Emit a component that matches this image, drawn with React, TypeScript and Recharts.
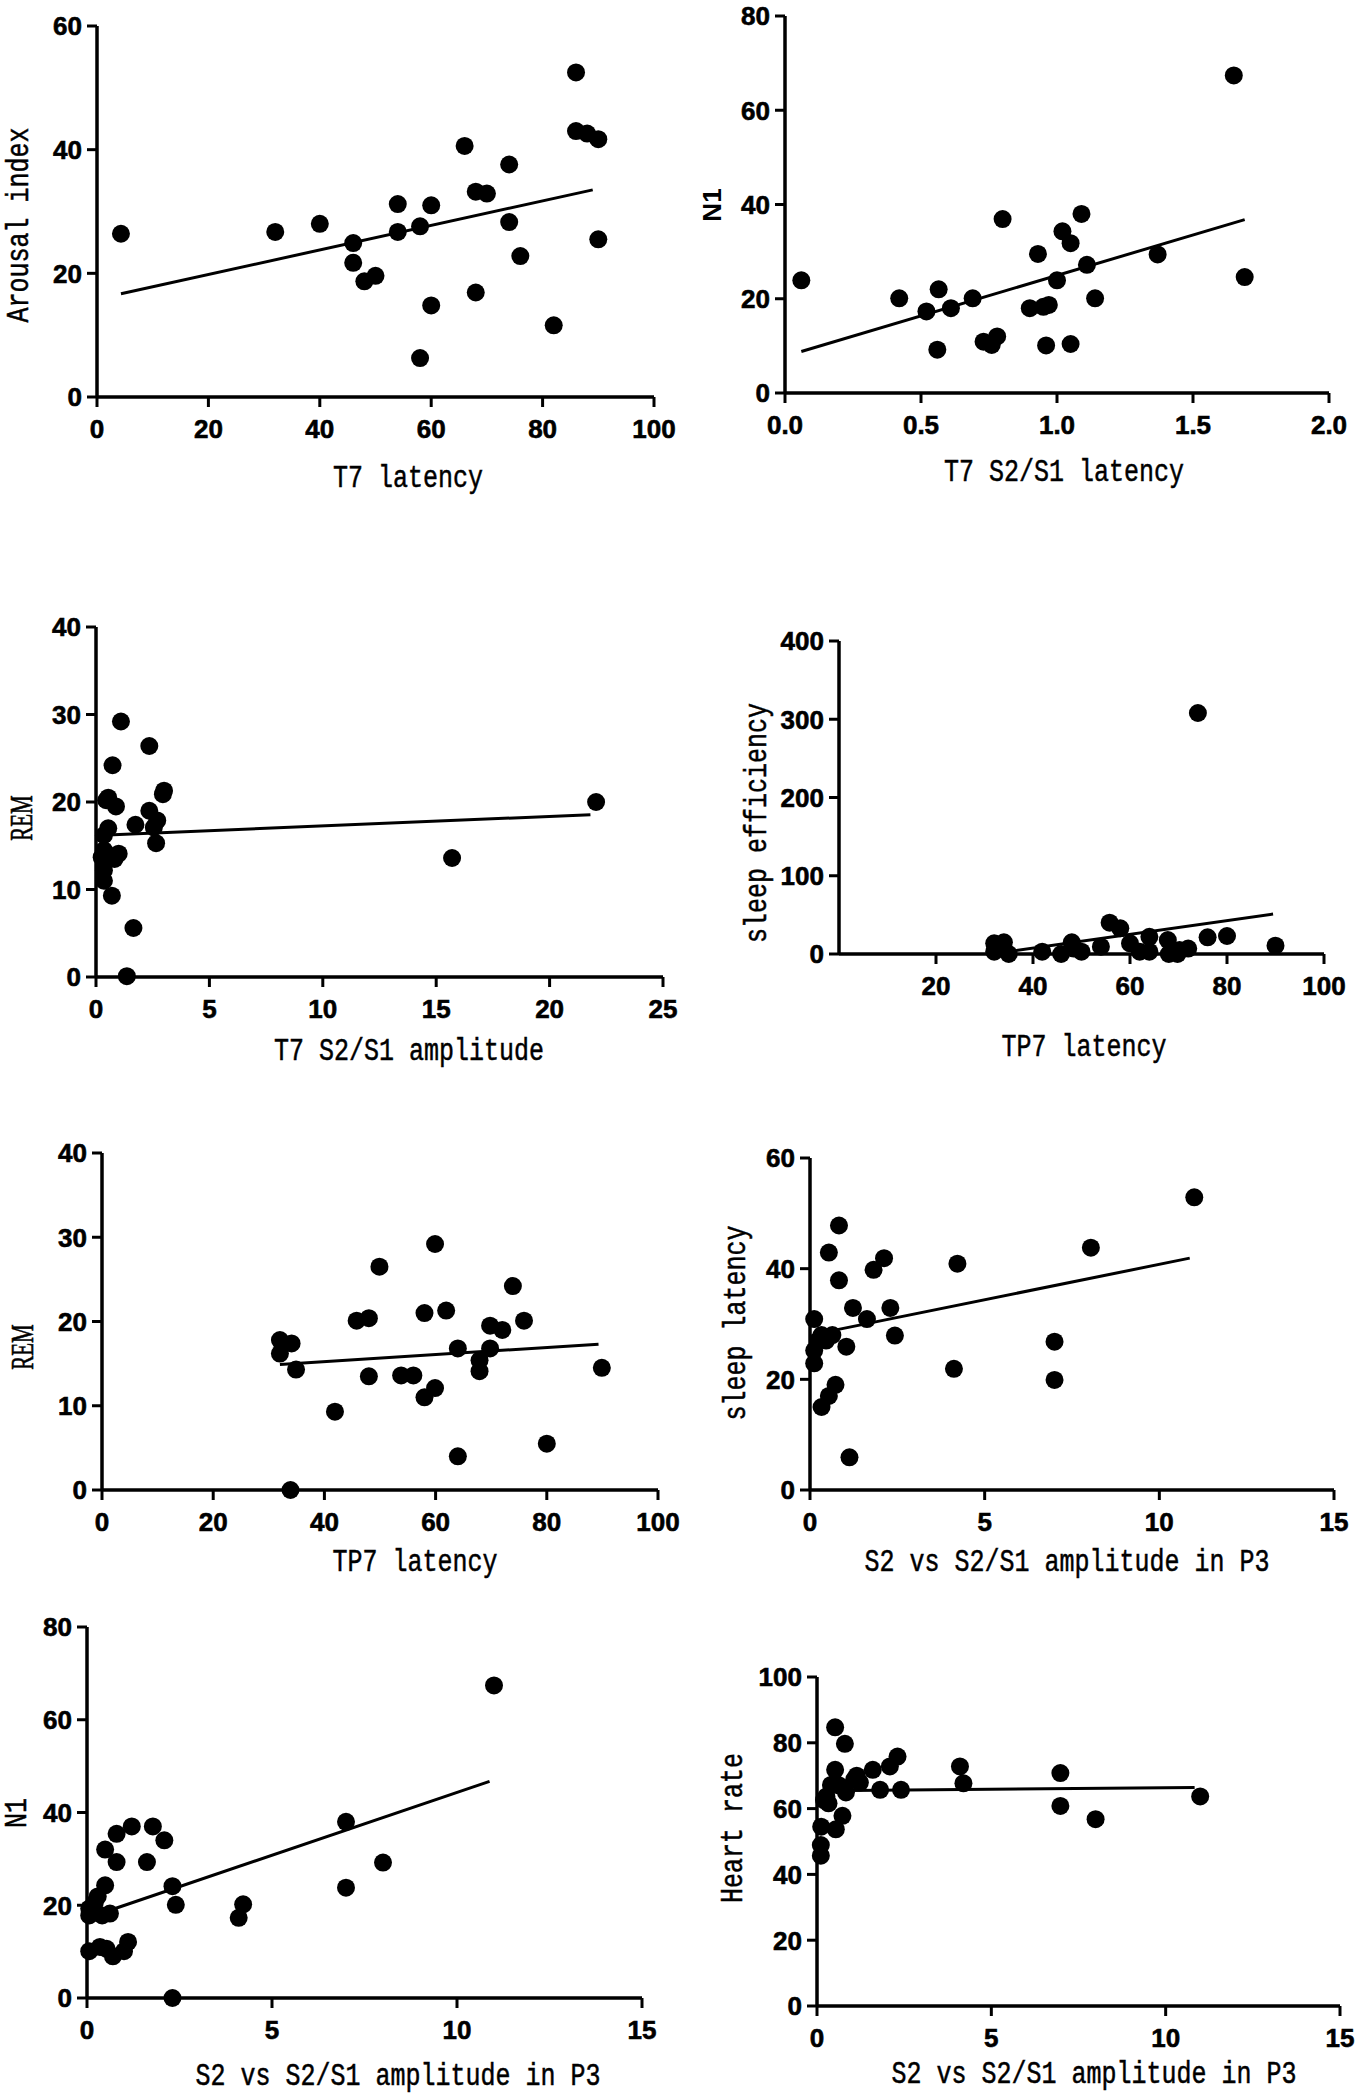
import React from 'react';
import { ScatterChart, Scatter, XAxis, YAxis } from 'recharts';

const TICK_FONT = "Arial, 'Liberation Sans', sans-serif";
const MONO = "'Liberation Mono', 'Courier New', monospace";
const SERIF = "'Liberation Serif', 'Times New Roman', serif";

// Arousal index vs T7 latency
const t7Latency = [4.3, 32, 40, 46, 46, 48, 50, 54, 54, 58, 58, 60, 60, 66, 68, 68, 70, 74, 74, 76, 82, 86, 86, 88, 90, 90];
const arousalIndex = [26.4, 26.7, 28, 24.9, 21.7, 18.7, 19.6, 31.2, 26.7, 27.6, 6.3, 31, 14.8, 40.6, 33.2, 16.9, 32.9, 37.6, 28.3, 22.8, 11.6, 52.5, 43, 42.6, 41.7, 25.5];
const arousalFitX = [4.3, 89];
const arousalFitY = [16.7, 33.5];

// N1 vs T7 S2/S1 latency
const t7RatioLatency = [0.06, 0.42, 0.52, 0.565, 0.56, 0.61, 0.69, 0.73, 0.76, 0.78, 0.8, 0.9, 0.93, 0.95, 0.97, 0.96, 1.0, 1.02, 1.05, 1.05, 1.09, 1.11, 1.14, 1.37, 1.65, 1.69];
const n1ByLatency = [23.9, 20.1, 17.3, 22, 9.2, 18, 20.1, 10.9, 10.2, 12, 36.9, 18, 29.5, 18.3, 18.7, 10.1, 23.9, 34.3, 31.8, 10.4, 38, 27.2, 20.1, 29.4, 67.4, 24.6];
const n1LatFitX = [0.06, 1.69];
const n1LatFitY = [8.8, 36.8];

// REM vs T7 S2/S1 amplitude
const t7RatioAmp = [1.1, 2.35, 0.73, 0.54, 0.45, 0.88, 3.0, 2.95, 2.35, 2.7, 2.55, 2.65, 1.74, 0.54, 0.35, 0.35, 1.0, 0.82, 0.25, 0.35, 0.35, 0.7, 1.65, 1.36, 15.7, 22.05];
const remByAmp = [29.2, 26.4, 24.2, 20.5, 20.2, 19.5, 21.3, 20.9, 19, 17.9, 17.1, 15.3, 17.4, 17, 16.2, 14.5, 14.1, 13.5, 13.7, 12.2, 11, 9.3, 5.6, 0.1, 13.6, 20];
const remAmpFitX = [0.25, 21.8];
const remAmpFitY = [16.2, 18.55];

// sleep efficiency vs TP7 latency
const tp7LatencyA = [74, 55.8, 58, 64, 67.8, 76, 80, 90, 32, 34, 32, 35, 33, 41.9, 45.8, 48, 48.4, 50, 54, 60, 62, 64, 68, 70.2, 72, 69.8];
const sleepEfficiency = [308, 40, 32.8, 22, 17.9, 21.3, 23, 10.6, 13.6, 15, 3, 0, 8, 3, 0, 15, 7, 3, 9.4, 13.6, 3, 3, 0, 5, 7, 0];
const effFitX = [36.4, 89.5];
const effFitY = [4.3, 51];

// REM vs TP7 latency
const tp7LatencyB = [32, 32, 34.1, 34.9, 33.9, 41.9, 45.8, 48, 49.9, 48, 53.8, 56, 58, 58, 59.9, 59.9, 61.9, 64, 64, 67.9, 67.9, 69.8, 69.8, 72, 73.9, 75.9, 80, 89.9];
const remByTp7 = [17.8, 16.2, 17.4, 14.3, 0, 9.3, 20.1, 20.4, 26.5, 13.5, 13.6, 13.6, 21, 11, 29.2, 12.1, 21.3, 16.8, 4, 15.4, 14.1, 19.5, 16.8, 19, 24.2, 20.1, 5.5, 14.5];
const remTp7FitX = [32, 89.3];
const remTp7FitY = [14.9, 17.3];

// sleep latency vs S2 vs S2/S1 amplitude in P3
const p3AmpA = [0.12, 0.12, 0.12, 0.23, 0.33, 0.46, 0.33, 0.54, 0.54, 0.64, 0.73, 0.83, 0.83, 1.04, 1.13, 1.23, 1.63, 1.82, 2.12, 2.3, 2.43, 4.12, 4.22, 7, 7, 8.04, 11];
const sleepLatency = [30.9, 25.2, 22.9, 27, 15, 27, 28, 42.9, 17, 28, 19, 47.8, 37.9, 25.9, 5.9, 32.9, 30.9, 39.8, 41.9, 32.9, 27.9, 21.9, 40.9, 26.8, 19.9, 43.8, 52.9];
const latFitX = [0.64, 10.87];
const latFitY = [28.8, 41.9];

// N1 vs S2 vs S2/S1 amplitude in P3
const p3AmpB = [11, 7, 7, 8, 4.1, 4.22, 2.31, 2.4, 2.31, 1.21, 1.78, 2.09, 1.62, 0.8, 0.8, 0.49, 0.49, 0.29, 0.21, 0.06, 0.06, 0.41, 0.62, 0.06, 0.35, 0.53, 0.7, 1.0, 1.11];
const n1ByP3 = [67.4, 38, 23.8, 29.2, 17.3, 20.2, 24.1, 20.1, 0, 37, 37, 34, 29.3, 35.4, 29.3, 32, 24.3, 21.9, 20.5, 19.3, 17.8, 17.8, 18.2, 10.1, 11, 10.6, 9, 10.1, 12.1];
const n1P3FitX = [0.76, 10.88];
const n1P3FitY = [19.3, 46.7];

// Heart rate vs S2 vs S2/S1 amplitude in P3
const p3AmpC = [0.52, 0.8, 2.31, 2.09, 1.6, 0.52, 1.14, 1.07, 1.23, 0.4, 0.64, 0.83, 1.81, 2.41, 4.1, 4.2, 6.98, 6.98, 7.99, 10.99, 0.27, 0.33, 0.2, 0.12, 0.54, 0.73, 0.11, 0.11];
const heartRate = [84.7, 79.7, 75.8, 72.8, 71.8, 71.8, 70, 68.9, 67.9, 67.2, 67, 64.9, 65.7, 65.7, 72.8, 67.7, 70.8, 60.8, 56.8, 63.7, 63.7, 61.6, 62.6, 54.5, 53.7, 57.8, 48.9, 45.7];
const hrFitX = [0.15, 10.83];
const hrFitY = [65.4, 66.4];

const ticks0to100 = [0, 20, 40, 60, 80, 100];
const ticks0to15 = [0, 5, 10, 15];

const zip = (xs: number[], ys: number[]) => xs.map((x, i) => ({ x, y: ys[i] }));

const PAD_L = 130;
const PAD_T = 20;
const PAD_R = 30;
const PAD_B = 130;

type TitleSpec = { text: string; x: number; y: number; family: string; weight?: number; size?: number; sy?: number };

const AxisTitle = (props: any) => {
  const { tx, ty, spec, rotate } = props;
  const s: TitleSpec = spec;
  return (
    <text
      transform={`translate(${tx},${ty})${rotate ? ' rotate(-90)' : ''} scale(1,${s.sy ?? 1.25})`}
      textAnchor="middle"
      dominantBaseline="central"
      fontFamily={s.family}
      fontWeight={s.weight ?? 400}
      fontSize={s.size ?? 25}
      fill="#000"
      stroke="#000"
      strokeWidth={s.weight ? 0 : 0.4}
    >
      {s.text}
    </text>
  );
};

const XTick = (props: any) => {
  const { x, y, payload, fmt } = props;
  return (
    <text x={x} y={y} dy="0.72em" textAnchor="middle" fontFamily={TICK_FONT} fontSize={26} fontWeight="bold" fill="#000" stroke="#000" strokeWidth={0.6}>
      {fmt ? fmt(payload.value) : payload.value}
    </text>
  );
};

const YTick = (props: any) => {
  const { x, y, payload } = props;
  return (
    <text x={x} y={y} dy="0.36em" textAnchor="end" fontFamily={TICK_FONT} fontSize={26} fontWeight="bold" fill="#000" stroke="#000" strokeWidth={0.6}>
      {payload.value}
    </text>
  );
};

const Dot = (props: any) => <circle cx={props.cx} cy={props.cy} r={9} fill="#000" />;
const NoDot = () => <g />;

interface PanelProps {
  plot: [number, number, number, number];
  xDomain: [number, number];
  xTicks: number[];
  xFmt?: (v: number) => string;
  yDomain: [number, number];
  yTicks: number[];
  points: { x: number; y: number }[];
  fit: { x: number; y: number }[];
  xTitle: TitleSpec;
  yTitle: TitleSpec;
}

function Panel(p: PanelProps) {
  const [px, py, pw, ph] = p.plot;
  const left = px - PAD_L;
  const top = py - PAD_T;
  return (
    <div style={{ position: 'absolute', left, top }}>
      <ScatterChart
        width={PAD_L + pw + PAD_R}
        height={PAD_T + ph + PAD_B}
        margin={{ top: PAD_T, right: PAD_R, bottom: 0, left: 0 }}
      >
        <XAxis
          type="number"
          dataKey="x"
          domain={p.xDomain}
          ticks={p.xTicks}
          interval={0}
          height={PAD_B}
          axisLine={{ stroke: '#000', strokeWidth: 3.5 }}
          tickLine={{ stroke: '#000', strokeWidth: 3 }}
          tickSize={10}
          tickMargin={12}
          tick={<XTick fmt={p.xFmt} />}
          label={<AxisTitle tx={p.xTitle.x - left} ty={p.xTitle.y - top} spec={p.xTitle} />}
        />
        <YAxis
          type="number"
          dataKey="y"
          domain={p.yDomain}
          ticks={p.yTicks}
          interval={0}
          width={PAD_L}
          axisLine={{ stroke: '#000', strokeWidth: 3.5 }}
          tickLine={{ stroke: '#000', strokeWidth: 3 }}
          tickSize={10}
          tickMargin={5}
          tick={<YTick />}
          label={<AxisTitle tx={p.yTitle.x - left} ty={p.yTitle.y - top} spec={p.yTitle} rotate />}
        />
        <Scatter data={p.points} shape={Dot} isAnimationActive={false} />
        <Scatter
          data={p.fit}
          shape={NoDot}
          line={{ stroke: '#000', strokeWidth: 3 }}
          isAnimationActive={false}
        />
      </ScatterChart>
    </div>
  );
}

export default function App() {
  return (
    <div style={{ position: 'absolute', left: 0, top: 0, width: 1355, height: 2094, background: '#fff', overflow: 'hidden' }}>
      <Panel
        plot={[97, 26, 557, 371]}
        xDomain={[0, 100]}
        xTicks={ticks0to100}
        yDomain={[0, 60]}
        yTicks={[0, 20, 40, 60]}
        points={zip(t7Latency, arousalIndex)}
        fit={zip(arousalFitX, arousalFitY)}
        xTitle={{ text: 'T7 latency', x: 408, y: 478, family: MONO }}
        yTitle={{ text: 'Arousal index', x: 19, y: 225, family: MONO }}
      />
      <Panel
        plot={[785, 16, 544, 377]}
        xDomain={[0, 2]}
        xTicks={[0, 0.5, 1, 1.5, 2]}
        xFmt={(v) => v.toFixed(1)}
        yDomain={[0, 80]}
        yTicks={[0, 20, 40, 60, 80]}
        points={zip(t7RatioLatency, n1ByLatency)}
        fit={zip(n1LatFitX, n1LatFitY)}
        xTitle={{ text: 'T7 S2/S1 latency', x: 1064, y: 472, family: MONO }}
        yTitle={{ text: 'N1', x: 712, y: 205, family: TICK_FONT, weight: 700, size: 26, sy: 1 }}
      />
      <Panel
        plot={[96, 627, 567, 350]}
        xDomain={[0, 25]}
        xTicks={[0, 5, 10, 15, 20, 25]}
        yDomain={[0, 40]}
        yTicks={[0, 10, 20, 30, 40]}
        points={zip(t7RatioAmp, remByAmp)}
        fit={zip(remAmpFitX, remAmpFitY)}
        xTitle={{ text: 'T7 S2/S1 amplitude', x: 409, y: 1051, family: MONO }}
        yTitle={{ text: 'REM', x: 21, y: 818, family: SERIF, size: 21, sy: 1.5 }}
      />
      <Panel
        plot={[839, 641, 485, 313]}
        xDomain={[0, 100]}
        xTicks={[20, 40, 60, 80, 100]}
        yDomain={[0, 400]}
        yTicks={[0, 100, 200, 300, 400]}
        points={zip(tp7LatencyA, sleepEfficiency)}
        fit={zip(effFitX, effFitY)}
        xTitle={{ text: 'TP7 latency', x: 1084, y: 1047, family: MONO }}
        yTitle={{ text: 'sleep efficiency', x: 757, y: 823, family: MONO }}
      />
      <Panel
        plot={[102, 1153, 556, 337]}
        xDomain={[0, 100]}
        xTicks={ticks0to100}
        yDomain={[0, 40]}
        yTicks={[0, 10, 20, 30, 40]}
        points={zip(tp7LatencyB, remByTp7)}
        fit={zip(remTp7FitX, remTp7FitY)}
        xTitle={{ text: 'TP7 latency', x: 415, y: 1562, family: MONO }}
        yTitle={{ text: 'REM', x: 22, y: 1347, family: SERIF, size: 21, sy: 1.5 }}
      />
      <Panel
        plot={[810, 1158, 524, 332]}
        xDomain={[0, 15]}
        xTicks={ticks0to15}
        yDomain={[0, 60]}
        yTicks={[0, 20, 40, 60]}
        points={zip(p3AmpA, sleepLatency)}
        fit={zip(latFitX, latFitY)}
        xTitle={{ text: 'S2 vs S2/S1 amplitude in P3', x: 1067, y: 1562, family: MONO }}
        yTitle={{ text: 'sleep latency', x: 736, y: 1323, family: MONO }}
      />
      <Panel
        plot={[87, 1627, 555, 371]}
        xDomain={[0, 15]}
        xTicks={ticks0to15}
        yDomain={[0, 80]}
        yTicks={[0, 20, 40, 60, 80]}
        points={zip(p3AmpB, n1ByP3)}
        fit={zip(n1P3FitX, n1P3FitY)}
        xTitle={{ text: 'S2 vs S2/S1 amplitude in P3', x: 398, y: 2076, family: MONO }}
        yTitle={{ text: 'N1', x: 17, y: 1813, family: MONO }}
      />
      <Panel
        plot={[817, 1677, 523, 329]}
        xDomain={[0, 15]}
        xTicks={ticks0to15}
        yDomain={[0, 100]}
        yTicks={[0, 20, 40, 60, 80, 100]}
        points={zip(p3AmpC, heartRate)}
        fit={zip(hrFitX, hrFitY)}
        xTitle={{ text: 'S2 vs S2/S1 amplitude in P3', x: 1094, y: 2074, family: MONO }}
        yTitle={{ text: 'Heart rate', x: 733, y: 1828, family: MONO }}
      />
    </div>
  );
}
